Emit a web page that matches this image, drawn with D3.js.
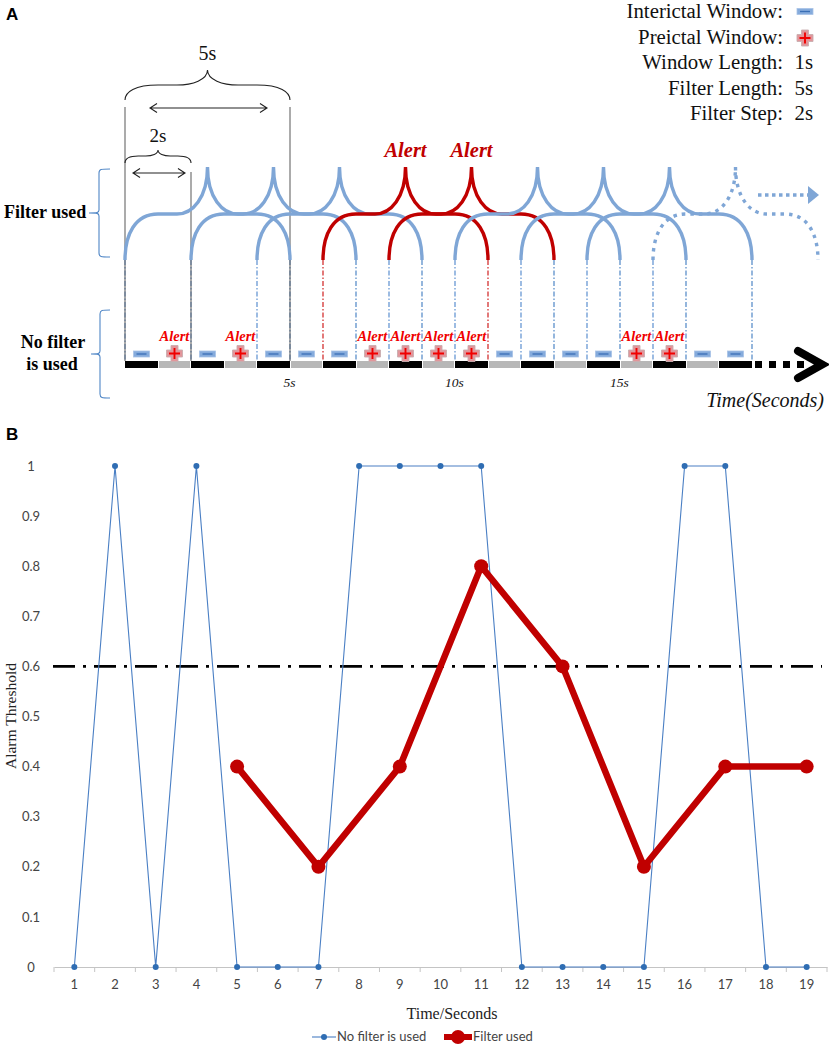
<!DOCTYPE html>
<html><head><meta charset="utf-8">
<script src="https://cdn.jsdelivr.net/npm/d3@7"></script>
<style>html,body{margin:0;padding:0;background:#fff}svg{display:block}</style>
</head><body><svg id="c" width="829" height="1047"></svg>
<script>
// ---- data ----
const seconds = d3.range(1, 20);
const noFilter = [0,1,0,1,0,0,0,1,1,1,1,0,0,0,0,1,1,0,0];
const filterSeconds = [5,7,9,11,13,15,17,19];
const filterUsed = [0.4,0.2,0.4,0.8,0.6,0.2,0.4,0.4];
const threshold = 0.6;
const yTicks = [0,0.1,0.2,0.3,0.4,0.5,0.6,0.7,0.8,0.9,1];
const filterLength = 5, filterStep = 2;
const filterStarts = [0,2,4,6,8,10,12,14,16];
const timeMarks = [5,10,15];
const legendLabels = ["Interictal Window:","Preictal Window:","Window Length:","Filter Length:","Filter Step:"];
const legendValues = [null,null,"1s","5s","2s"];

const svg = d3.select("#c");
const serif = "'Liberation Serif','Times New Roman',serif";
const sans = "'Liberation Sans',Arial,sans-serif";
const lato = "Lato,'Open Sans',sans-serif";
const BLUE="#7fa6d6", RED="#c00000", ALERT="#f00000";

function text(s,x,y,o={}){
  return svg.append("text").attr("x",x).attr("y",y).text(s)
    .attr("font-family",o.f||serif).attr("font-size",o.s||14)
    .attr("font-weight",o.w||"normal").attr("font-style",o.i||"normal")
    .attr("text-anchor",o.a||"start").attr("fill",o.c||"#111");
}
text("A",6,20,{f:sans,s:17,w:"bold",c:"#000"});
text("B",6,440,{f:sans,s:17,w:"bold",c:"#000"});

// ---- panel A ----
const xA = d3.scaleLinear().domain([0,19]).range([125,752]);
const yFoot=260, yFlat=214, yPeak=167, yBar=361, hBar=7;

function brace(x0,x1,yb,yf,yp){
  const w=x1-x0, m=(x0+x1)/2, h=yb-yf, g=yf-yp;
  const p=d3.path();
  p.moveTo(x0,yb);
  p.bezierCurveTo(x0,yb-h*.55,x0+w*.06,yf,x0+w*.2,yf);
  p.lineTo(x0+w*.315,yf);
  p.bezierCurveTo(x0+w*.41,yf,m,yf-g*.35,m,yp);
  p.bezierCurveTo(m,yf-g*.35,x1-w*.41,yf,x1-w*.315,yf);
  p.lineTo(x1-w*.2,yf);
  p.bezierCurveTo(x1-w*.06,yf,x1,yb-h*.55,x1,yb);
  return p.toString();
}

// connector lines
const connectors = Array.from(new Set(filterStarts.concat(filterStarts.map(d=>d+filterLength)))).filter(d=>d<=19).sort(d3.ascending);
const alertStarts = filterStarts.filter((d,i)=>{
  const idx=filterSeconds.indexOf(d+filterLength); return idx>=0 && filterUsed[idx]>=threshold;});
const redConn = [6,11];
svg.append("g").selectAll("line").data(connectors).join("line")
  .attr("x1",d=>xA(d)).attr("x2",d=>xA(d)).attr("y1",yFoot).attr("y2",yBar)
  .attr("stroke",d=>redConn.includes(d)?"#d02020":(d%2? "#4f86c6":"#5b8fd0"))
  .attr("stroke-width",1.2).attr("stroke-dasharray","5,2,1.5,2");
// solid guide lines
const guides=[{s:0,top:107},{s:2,top:172},{s:5,top:107}];
svg.append("g").selectAll("line").data(guides).join("line")
  .attr("x1",d=>xA(d.s)).attr("x2",d=>xA(d.s)).attr("y1",d=>d.top).attr("y2",yBar)
  .attr("stroke","#666").attr("stroke-width",1.1);

// filter braces
svg.append("g").selectAll("path").data(filterStarts).join("path")
  .attr("d",d=>brace(xA(d),xA(d+filterLength),yFoot,yFlat,yPeak))
  .attr("fill","none")
  .attr("stroke",d=>alertStarts.includes(d)?RED:BLUE)
  .attr("stroke-width",3.4)
  .attr("stroke-dasharray",d=>d===16?"3.5,5":null);
// continuation arrow
svg.append("line").attr("x1",xA(19)+6).attr("x2",xA(19)+56).attr("y1",195).attr("y2",195)
  .attr("stroke",BLUE).attr("stroke-width",3.5).attr("stroke-dasharray","3.5,3.5");
svg.append("path").attr("d",d3.line()([[xA(19)+56,186],[xA(19)+67,195],[xA(19)+56,204]])+"Z").attr("fill",BLUE);
// big alerts
alertStarts.forEach(d=>text("Alert",xA(d+filterLength/2),157,{s:20.5,w:"bold",i:"italic",c:RED,a:"middle"}));

// time bar
svg.append("g").selectAll("rect").data(seconds).join("rect")
  .attr("x",d=>xA(d-1)+(d%2?0:1)).attr("width",d=>xA(d)-xA(d-1)-(d%2?0:2))
  .attr("y",yBar).attr("height",hBar)
  .attr("fill",d=>d%2?"#000":"#b7b7b7");
// window glyphs
function minus(cx,cy){
  svg.append("rect").attr("x",cx-8).attr("y",cy-3).attr("width",16).attr("height",6)
    .attr("fill","#85abdc").attr("stroke","#a9c3e6").attr("stroke-width",.8);
  svg.append("line").attr("x1",cx-5).attr("x2",cx+5).attr("y1",cy).attr("y2",cy)
    .attr("stroke","#3a6fb5").attr("stroke-width",1.3);
}
function plus(cx,cy){
  const a=8,b=3.5;
  svg.append("path").attr("d",d3.line()([[-b,-a],[b,-a],[b,-b],[a,-b],[a,b],[b,b],[b,a],[-b,a],[-b,b],[-a,b],[-a,-b],[-b,-b]].map(q=>[cx+q[0],cy+q[1]]))+"Z")
    .attr("fill","#e2959a").attr("stroke","#c8aeb0").attr("stroke-width",.9);
  svg.append("path").attr("d",`M${cx-5.5},${cy}H${cx+5.5}M${cx},${cy-5.5}V${cy+5.5}`)
    .attr("stroke","#f00000").attr("stroke-width",1.9);
}
seconds.forEach((s,i)=>{
  const cx=xA(s-.5);
  if(noFilter[i]===1){
    plus(cx,353.5);
    text("Alert",cx,341,{s:14.5,i:"italic",w:"bold",c:ALERT,a:"middle"});
  } else minus(cx,354);
});
// time arrow
svg.append("line").attr("x1",xA(19)+3).attr("x2",xA(19)+55).attr("y1",yBar+3.5).attr("y2",yBar+3.5)
  .attr("stroke","#000").attr("stroke-width",7).attr("stroke-dasharray","7,7");
svg.append("path").attr("d",d3.line()([[xA(19)+46,351],[xA(19)+70,364.5],[xA(19)+46,378]]))
  .attr("fill","none").attr("stroke","#000").attr("stroke-width",8).attr("stroke-linecap","round").attr("stroke-linejoin","miter");
timeMarks.forEach(t=>text(t+"s",xA(t)-.5,387,{s:13.5,i:"italic",a:"middle"}));
text("Time(Seconds)",824,407,{s:20,i:"italic",a:"end",c:"#111"});

// dimension braces
function thin(x0,x1,yb,yf,yp){
  svg.append("path").attr("d",brace(x0,x1,yb,yf,yp)).attr("fill","none").attr("stroke","#222").attr("stroke-width",1.1);
}
thin(xA(0),xA(filterLength),100,85,70);
text("5s",xA(filterLength/2),60,{s:20,a:"middle"});
thin(xA(0),xA(filterStep),163,156,150);
text("2s",xA(filterStep/2),142,{s:19,a:"middle"});
function dbl(x0,x1,y){
  svg.append("path").attr("d",`M${x0},${y}H${x1}M${x0+7},${y-4.5}L${x0},${y}L${x0+7},${y+4.5}M${x1-7},${y-4.5}L${x1},${y}L${x1-7},${y+4.5}`)
    .attr("fill","none").attr("stroke","#222").attr("stroke-width",1.1);
}
dbl(150,267,108); dbl(133,185,173);

// left braces
function lbrace(xr,xm,xt,y0,y1){
  const m=(y0+y1)/2;
  svg.append("path").attr("d",`M${xr},${y0}C${xm+2},${y0} ${xm},${y0} ${xm},${y0+4}V${m-3}C${xm},${m} ${xm-2},${m} ${xt},${m}C${xm-2},${m} ${xm},${m} ${xm},${m+3}V${y1-4}C${xm},${y1} ${xm+2},${y1} ${xr},${y1}`)
    .attr("fill","none").attr("stroke","#4f86c6").attr("stroke-width",1.1);
}
lbrace(110,99,89,169,257);
lbrace(110,100,91,310,398);
text("Filter used",4,218,{s:18,w:"bold",c:"#000"});
text("No filter",53,348,{s:18,w:"bold",a:"middle",c:"#000"});
text("is used",52,370,{s:18,w:"bold",a:"middle",c:"#000"});

// legend
const rowY = d3.scaleLinear().domain([0,4]).range([18,120]);
legendLabels.forEach((l,i)=>{
  text(l,783,rowY(i),{s:20.8,a:"end",c:"#111"});
  if(legendValues[i]) text(legendValues[i],813,rowY(i),{s:20.8,a:"end",c:"#111"});
});
minus(805,11.5); plus(805,38);

// ---- panel B ----
const xB = d3.scaleBand().domain(seconds).range([54,827]);
const yB = d3.scaleLinear().domain([0,1]).range([967,466]);
const cx = d=>xB(d)+xB.bandwidth()/2;
const gx = svg.append("g").attr("transform","translate(0,967)")
  .call(d3.axisBottom(xB).tickSize(0).tickPadding(13));
gx.select(".domain").attr("stroke","#c4c4c4").attr("stroke-width",1);
gx.selectAll("text").attr("font-family",lato).attr("font-size",13).attr("fill","#444");
svg.append("g").selectAll("line").data(d3.range(20)).join("line")
  .attr("x1",d=>54+d*xB.step()).attr("x2",d=>54+d*xB.step()).attr("y1",967).attr("y2",972)
  .attr("stroke","#c4c4c4");
const gy = svg.append("g").attr("transform","translate(34,0)")
  .call(d3.axisLeft(yB).tickValues(yTicks).tickSize(0).tickFormat(d=>String(d)).tickPadding(0));
gy.select(".domain").remove();
gy.selectAll("text").attr("font-family",lato).attr("font-size",13).attr("fill","#444")
  .attr("text-anchor","middle").attr("x",-3);

svg.append("line").attr("x1",53).attr("x2",822).attr("y1",yB(threshold)).attr("y2",yB(threshold))
  .attr("stroke","#000").attr("stroke-width",2.6).attr("stroke-dasharray","22,8,3,8");

svg.append("path").attr("d",d3.line().x((d,i)=>cx(seconds[i])).y(d=>yB(d))(noFilter))
  .attr("fill","none").attr("stroke","#4a7fc4").attr("stroke-width",1.1);
svg.append("g").selectAll("circle").data(noFilter).join("circle")
  .attr("cx",(d,i)=>cx(seconds[i])).attr("cy",d=>yB(d)).attr("r",3).attr("fill","#2f6db3");
svg.append("path").attr("d",d3.line().x((d,i)=>cx(filterSeconds[i])).y(d=>yB(d))(filterUsed))
  .attr("fill","none").attr("stroke",RED).attr("stroke-width",6.5);
svg.append("g").selectAll("circle").data(filterUsed).join("circle")
  .attr("cx",(d,i)=>cx(filterSeconds[i])).attr("cy",d=>yB(d)).attr("r",7).attr("fill",RED);

text("Time/Seconds",452,1019,{s:16,a:"middle",c:"#222"});
svg.append("text").attr("transform","translate(16,716) rotate(-90)").text("Alarm Threshold")
  .attr("font-family",serif).attr("font-size",15.5).attr("text-anchor","middle").attr("fill","#222");

// chart legend
svg.append("line").attr("x1",312).attr("x2",336).attr("y1",1037).attr("y2",1037).attr("stroke","#4a7fc4").attr("stroke-width",1.1);
svg.append("circle").attr("cx",324).attr("cy",1037).attr("r",3).attr("fill","#2f6db3");
text("No filter is used",337,1041,{f:lato,s:13,c:"#444"});
svg.append("line").attr("x1",444).attr("x2",472).attr("y1",1037).attr("y2",1037).attr("stroke",RED).attr("stroke-width",6);
svg.append("circle").attr("cx",458).attr("cy",1037).attr("r",7).attr("fill",RED);
text("Filter used",473,1041,{f:lato,s:13,c:"#444"});
</script></body></html>
